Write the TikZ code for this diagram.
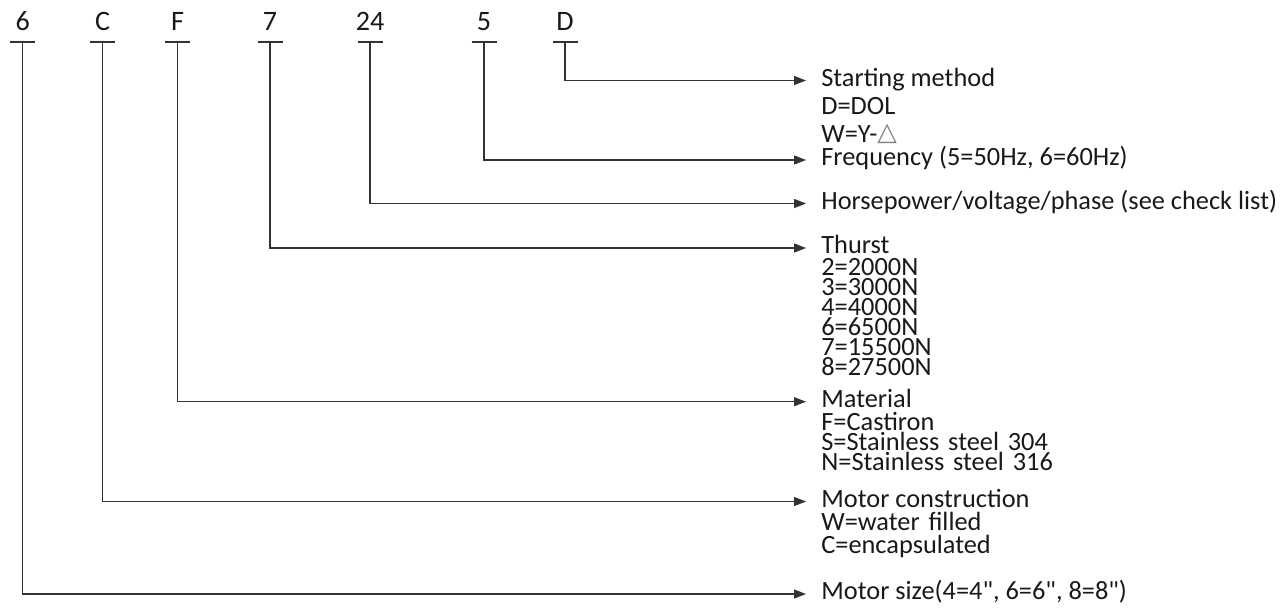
\documentclass[tikz,border=0pt]{standalone}
\usepackage{fontspec}
\setmainfont{Carlito}[Ligatures=TeXOff]
\newfontfamily\symfont{DejaVu Sans}
\usetikzlibrary{arrows.meta,positioning}

\newcommand{\deltasym}{\textcolor{black!50}{\raisebox{1.2pt}{\symfont\fontsize{14.5}{14.5}\selectfont △}}}

\tikzset{
  code/.style={anchor=base, inner sep=0pt, text=black!90, font=\fontsize{16}{19}\selectfont},
  codebar/.style={draw=black!80, line width=0.7pt},
  head/.style={anchor=west, inner xsep=0.3cm, inner ysep=0pt, text height=0.64em, text depth=0pt,
    text=black!90, font=\fontsize{15}{17}\selectfont},
  items/.style={anchor=base west, inner sep=0pt, align=left, text width=6cm,
    text=black!90, font=\fontsize{15}{#1}\selectfont},
  lead/.style={draw=black!80, line width=0.7pt, -{Triangle[length=0.24cm,width=0.18cm]},
    to path={|- (\tikztotarget)}}
}

\begin{document}
\begin{tikzpicture}[x=0.02cm, y=-0.02cm]
    \useasboundingbox (0,0) rectangle (1283,609);

    % code letters
    \node[code] (c6) at (22.7,30) {6};
    \node[code] (cC) at (102.7,30) {C};
    \node[code] (cF) at (177.7,30) {F};
    \node[code] (c7) at (270,30) {7};
    \node[code] (c24) at (370,30) {24};
    \node[code] (c5) at (484,30) {5};
    \node[code] (cD) at (565,30) {D};

    \coordinate (b6) at (22.7,42);
    \coordinate (bC) at (102.7,42);
    \coordinate (bF) at (177.7,42);
    \coordinate (b7) at (270,42);
    \coordinate (b24) at (370,42);
    \coordinate (b5) at (484,42);
    \coordinate (bD) at (565,42);

    \foreach \b in {b6,bC,bF,b7,b24,b5,bD}
      \draw[codebar] ([xshift=-0.25cm]\b) -- ([xshift=0.25cm]\b);

    % descriptions
    \node[head] (start) at (806,80.5) {Starting method};
    \node[items=16.2pt] (startlist) at (821,114) {D=DOL\\W=Y-\deltasym};
    \node[head] (freq) at (806,160) {Frequency (5=50Hz, 6=60Hz)};
    \node[head] (hp) at (806,203.5) {Horsepower/voltage/phase (see check list)};
    \node[head] (thrust) at (806,248) {Thurst};
    \node[items=11.4pt] (thrustlist) at (821,275) {2=2000N\\3=3000N\\4=4000N\\6=6500N\\7=15500N\\8=27500N};
    \node[head] (mat) at (806,401.7) {Material};
    \node[items=11.4pt] (matlist) at (821,430) {F=Castiron\\S=Stainless steel 304\\N=Stainless steel 316};
    \node[head] (constr) at (806,501.5) {Motor construction};
    \node[items=12.8pt] (constrlist) at (821,530.5) {W=water filled\\C=encapsulated};
    \node[head] (size) at (806,594) {Motor size(4=4", 6=6", 8=8")};

    \path
    (bD) edge[lead] (start.west)
    (b5) edge[lead] (freq.west)
    (b24) edge[lead] (hp.west)
    (b7) edge[lead] (thrust.west)
    (bF) edge[lead] (mat.west)
    (bC) edge[lead] (constr.west)
    (b6) edge[lead] (size.west);
\end{tikzpicture}
\end{document}
